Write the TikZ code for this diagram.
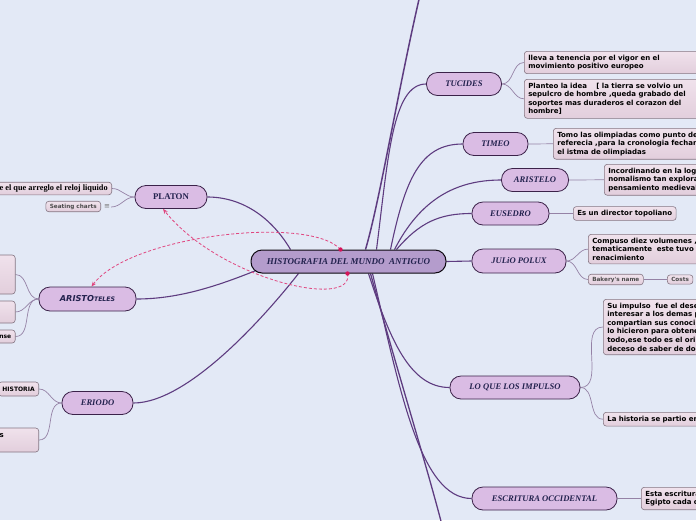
\documentclass[tikz,border=0pt]{standalone}
\usepackage{fontspec}
\setmainfont{Liberation Serif}
\newfontfamily\dejavu{DejaVu Sans}[ItalicFont={DejaVu Sans Oblique},BoldFont={DejaVu Sans Bold},BoldItalicFont={DejaVu Sans Bold Oblique}]
\usetikzlibrary{calc,arrows.meta}
\definecolor{bg}{HTML}{E3E9F6}
\definecolor{topicfill}{HTML}{DABCE4}
\definecolor{topicedge}{HTML}{3B2249}
\definecolor{centerfill}{HTML}{B49CCC}
\definecolor{ink}{HTML}{23224E}
\definecolor{branchc}{HTML}{5E3C80}
\definecolor{twigc}{HTML}{9582A6}
\definecolor{leaftop}{HTML}{F0E2EC}
\definecolor{leafbot}{HTML}{E2CEDC}
\definecolor{leafedge}{HTML}{857683}
\definecolor{relc}{HTML}{E0467F}
\definecolor{reldot}{HTML}{D6145A}
\pgfdeclarelayer{back}
\pgfsetlayers{back,main}
\tikzset{
 topic/.style={draw=topicedge, line width=0.8pt, fill=topicfill, rounded corners=11pt, minimum height=23pt, inner sep=0pt, text=ink, font=\fontsize{8.6}{10}\selectfont\bfseries\itshape},
 centre/.style={topic, fill=centerfill, draw=black!80!topicedge, line width=1pt, font=\fontsize{9}{11}\selectfont\bfseries\itshape},
 leaf/.style={draw=leafedge, line width=0.6pt, top color=leaftop, bottom color=leafbot, rounded corners=3pt, inner xsep=4pt, inner ysep=3.5pt, align=left, font=\dejavu\bfseries\fontsize{7}{8.6}\selectfont, text=black},
 smallleaf/.style={leaf, font=\dejavu\bfseries\fontsize{5.7}{7}\selectfont, text=black!70, inner ysep=2.5pt},
 branch/.style={draw=branchc, line width=1.1pt},
 twig/.style={draw=twigc, line width=0.7pt},
 relation/.style={draw=relc, line width=0.8pt, dash pattern=on 3pt off 2pt},
}
\begin{document}
\begin{tikzpicture}[x=1pt,y=-1pt]
\clip (0,0) rectangle (696,520);
% topics
\node[centre, minimum width=195pt] (c) at (348.5,261.5) {HISTOGRAFIA DEL MUNDO\ \ ANTIGUO};
\node[topic, minimum width=72pt, font=\fontsize{8.8}{10}\selectfont\bfseries] (pl) at (171,197) {PLATON};
\node[topic, minimum width=97pt, minimum height=24pt, font=\dejavu\bfseries\itshape\fontsize{8.2}{10}\selectfont] (ar) at (87.5,299) {ARISTO{\fontsize{6.2}{8}\selectfont TELES}};
\node[topic, minimum width=71pt] (er) at (97.5,403) {ERIODO};
\node[topic, minimum width=75pt] (tu) at (464,84) {TUCIDES};
\node[topic, minimum width=65pt] (ti) at (495.5,144) {TIMEO};
\node[topic, minimum width=67pt] (as) at (535,180) {ARISTELO};
\node[topic, minimum width=77pt] (eu) at (510.5,213.5) {EUSEDRO};
\node[topic, minimum width=94pt, minimum height=24pt] (ju) at (519,261) {JULiO POLUX};
\node[topic, minimum width=130pt] (lq) at (515,387.5) {LO QUE LOS IMPULSO};
\node[topic, minimum width=145pt] (es) at (544.5,498.5) {ESCRITURA OCCIDENTAL};
% right leaves
\node[leaf, text width=190pt, anchor=north west] (tu1) at (524,51) {lleva a tenencia por el vigor en el\\movimiento positivo europeo};
\node[leaf, text width=190pt, anchor=north west] (tu2) at (524,79) {Planteo la idea\ \ \ \ [ la tierra se volvio un\\sepulcro de hombre ,queda grabado del\\soportes mas duraderos el corazon del\\hombre]};
\node[leaf, text width=160pt, anchor=north west] (ti1) at (553,128) {Tomo las olimpiadas como punto de\\referecia ,para la cronologia fechan\\el istma de olimpiadas};
\node[leaf, text width=120pt, anchor=north west] (as1) at (604,164) {Incordinando en la log\\nomalismo tan explora\\pensamiento medieval};
\node[leaf, anchor=west] (eu1) at (573,213.5) {Es un director topoliano};
\node[leaf, text width=130pt, anchor=north west] (ju1) at (588,234) {Compuso diez volumenes ,\\tematicamente\ \ este tuvo\\renacimiento};
\node[smallleaf, anchor=west] (ju2) at (588,279.5) {Bakery's name};
\node[smallleaf, anchor=west] (ju3) at (667,279.5) {Costs};
\node[leaf, text width=120pt, anchor=north west] (lq1) at (603,299) {Su impulso\ \ fue el dese\\interesar a los demas p\\compartian sus conoci\\lo hicieron para obtene\\todo,ese todo es el ori\\deceso de saber de do};
\node[leaf, text width=120pt, anchor=north west] (lq2) at (603,412) {La historia se partio en};
\node[leaf, text width=80pt, anchor=north west] (es1) at (641,487) {Esta escritura\\Egipto cada c};
% left leaves
\node[leaf, anchor=east, font=\fontsize{8.3}{10}\selectfont\bfseries, inner ysep=2.5pt] (pl1) at (112,188.5) {e el que arreglo el reloj liquido};
\node[smallleaf, anchor=east] (pl2) at (101,206.5) {Seating charts};
\node[font=\dejavu\fontsize{7}{8}\selectfont, text=black!55, inner sep=1pt] (plI) at (107,207) {≡};
\node[leaf, anchor=east, minimum width=60pt, minimum height=39pt] (ar1) at (15.5,274.5) {};
\node[leaf, anchor=east, minimum width=60pt, minimum height=22pt] (ar2) at (15.5,312) {};
\node[leaf, anchor=east, font=\dejavu\bfseries\fontsize{6}{7}\selectfont, minimum height=13pt, inner ysep=2pt] (ar3) at (15.5,336.5) {nse};
\node[leaf, anchor=east, font=\dejavu\bfseries\fontsize{6}{7}\selectfont, minimum height=14pt, inner ysep=2pt] (er1) at (39,389) {HISTORIA};
\node[leaf, anchor=east, minimum height=24pt, text width=60pt] (er2) at (39,440) {\hspace*{25pt}s\\\mbox{}};
% relation dots
\coordinate (r1) at ([xshift=90pt]c.north west);
\coordinate (r2) at ([xshift=97pt]c.south west);
\fill[reldot] (r1) circle (2.2);
\fill[reldot] (r2) circle (2.2);
\coordinate (up) at (420,-5);
\coordinate (dn) at (442,525);
\begin{pgfonlayer}{back}
\fill[bg] (0,0) rectangle (696,520);
% branches
\draw[branch, line width=1.5pt] ([xshift=115pt]c.north west) .. controls (380,200) and (398,90) .. (up);
\draw[branch] ([xshift=126pt]c.north west) .. controls (388,160) and (392,84) .. (tu.west);
\draw[branch] ([xshift=140pt]c.north west) .. controls (405,180) and (420,144) .. (ti.west);
\draw[branch] ([xshift=144pt]c.north west) .. controls (420,200) and (455,180) .. (as.west);
\draw[branch] ([xshift=146pt]c.north west) .. controls (420,222) and (440,213.5) .. (eu.west);
\draw[branch] (c.east) -- (ju.west);
\draw[branch] ([xshift=118pt]c.south west) .. controls (390,340) and (410,387.5) .. (lq.west);
\draw[branch] ([xshift=122pt]c.south west) .. controls (400,390) and (420,498.5) .. (es.west);
\draw[branch, line width=1.3pt] ([xshift=120pt]c.south west) .. controls (400,380) and (425,460) .. (dn);
\draw[branch] ([xshift=40pt]c.north west) .. controls (270,215) and (240,197) .. (pl.east);
\draw[branch] ([xshift=8pt,yshift=4pt]c.south west) .. controls (220,285) and (180,299) .. (ar.east);
\draw[branch] ([xshift=48pt]c.south west) .. controls (270,310) and (190,403) .. (er.east);
% twigs
\draw[twig] (tu.east) to[out=0,in=180] (tu1.west);
\draw[twig] (tu.east) to[out=0,in=180] (tu2.west);
\draw[twig] (ti.east) -- (ti1.west);
\draw[twig] (as.east) -- (as1.west);
\draw[twig] (eu.east) -- (eu1.west);
\draw[twig] (ju.east) to[out=0,in=180] (ju1.west);
\draw[twig] (ju.east) to[out=0,in=180] (ju2.west);
\draw[twig] (ju2.east) -- (ju3.west);
\draw[twig] (lq.east) to[out=0,in=180] (lq1.west);
\draw[twig] (lq.east) to[out=0,in=180] (lq2.west);
\draw[twig] (es.east) -- (es1.west);
\draw[twig] (pl.west) to[out=180,in=0] (pl1.east);
\draw[twig] (pl.west) to[out=180,in=0] (plI.east);
\draw[twig] (ar.west) to[out=180,in=0] (ar1.east);
\draw[twig] (ar.west) to[out=180,in=0] (ar2.east);
\draw[twig] (ar.west) to[out=180,in=0] (ar3.east);
\draw[twig] (er.west) to[out=180,in=0] (er1.east);
\draw[twig] (er.west) to[out=180,in=0] (er2.east);
% relations
\draw[relation, -{Stealth[length=5pt,width=4pt]}] (r1) .. controls (310,215) and (130,235) .. ([xshift=4pt]ar.north);
\draw[relation, -{Stealth[length=5pt,width=4pt]}] (r2) .. controls (355,310) and (220,280) .. ([xshift=-8pt]pl.south);
\end{pgfonlayer}
\end{tikzpicture}
\end{document}
